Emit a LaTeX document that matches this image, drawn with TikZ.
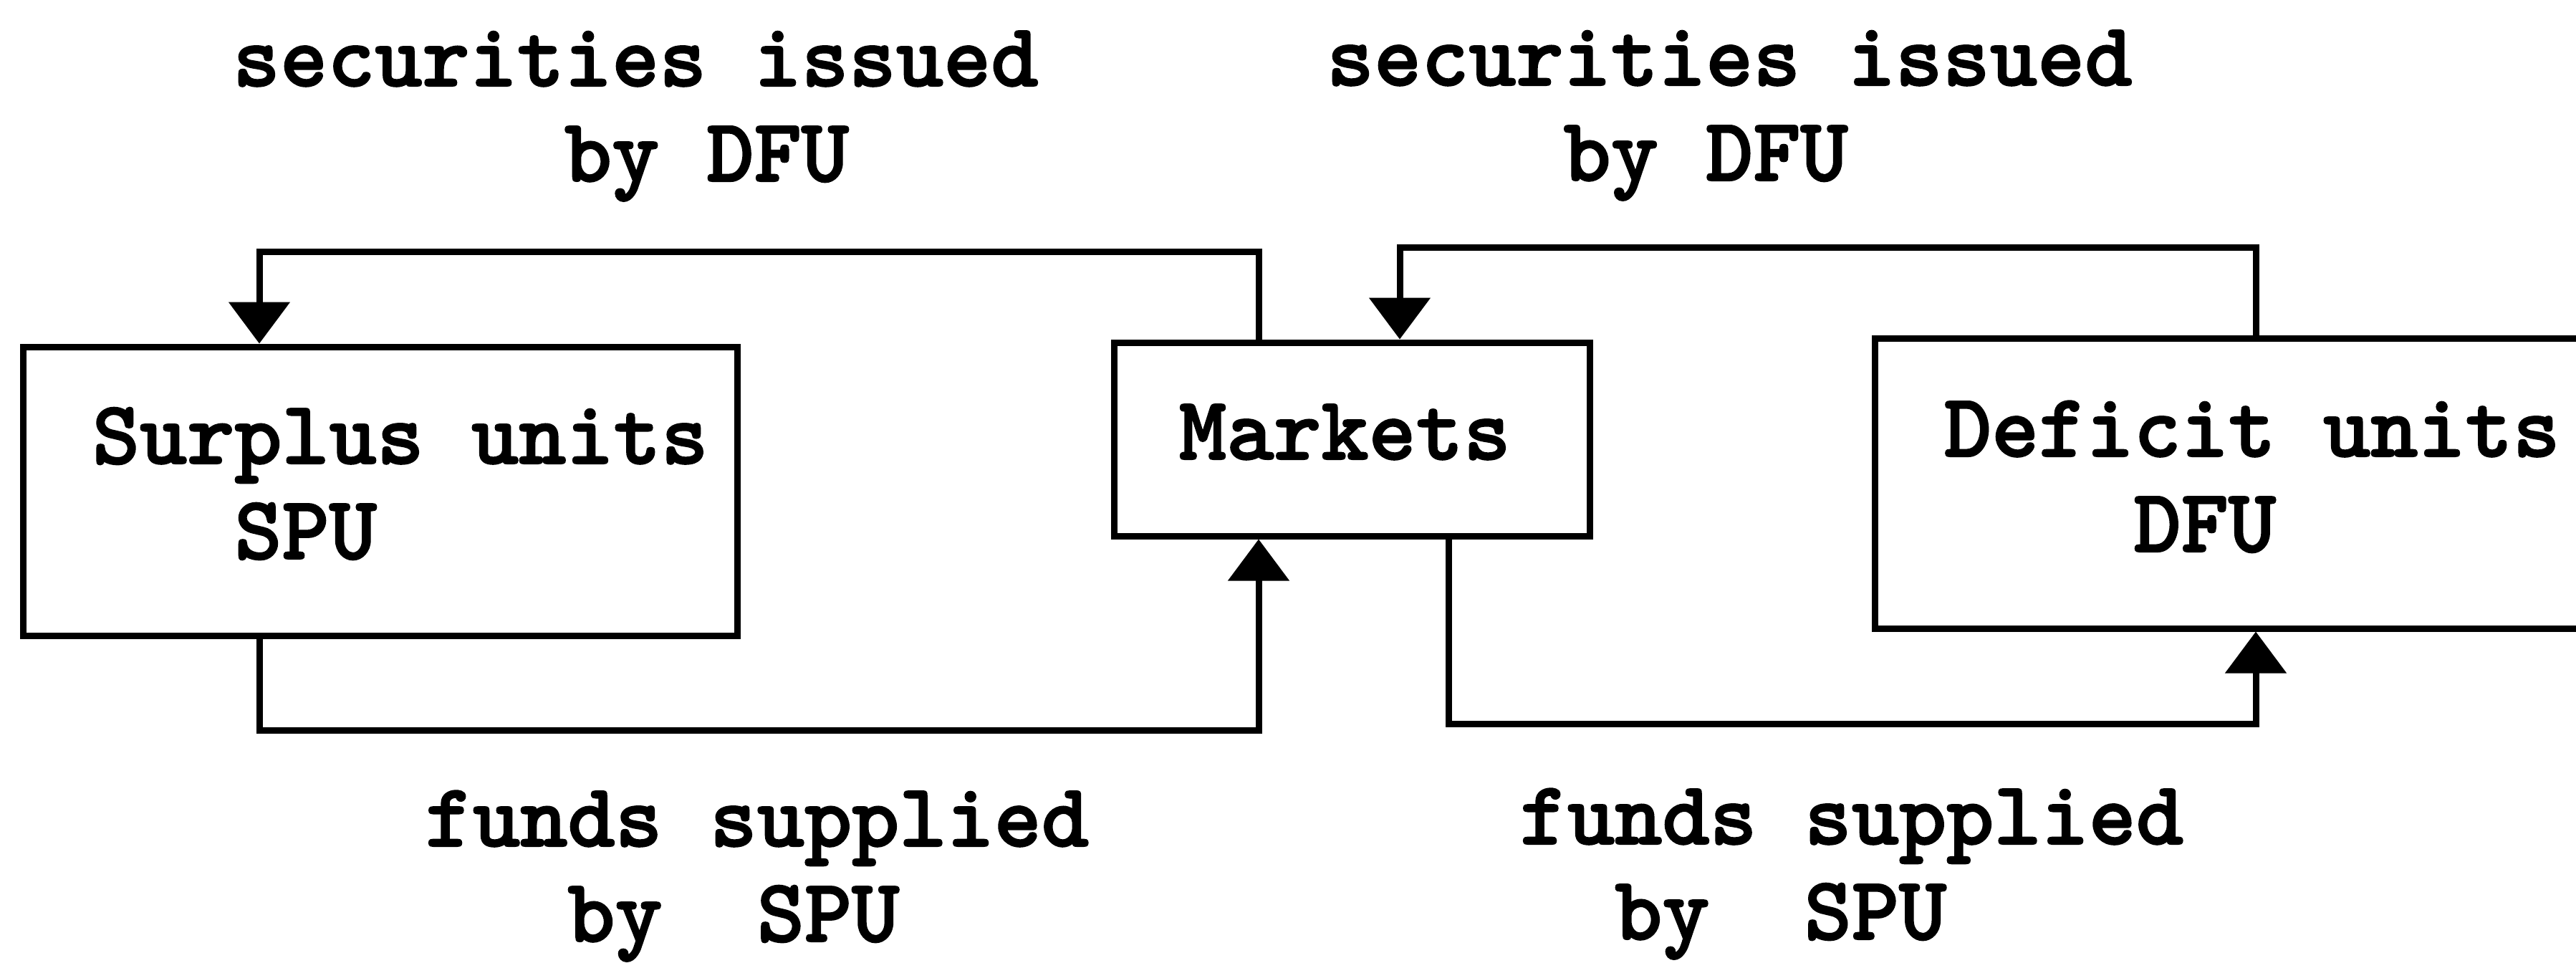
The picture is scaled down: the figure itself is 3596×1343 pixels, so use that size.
\documentclass[tikz,border=0pt]{standalone}
\usepackage{fontspec}
\newfontfamily\heavytt{lmmonolt10-bold.otf}[FakeBold=1.6]
\usetikzlibrary{arrows.meta}
\begin{document}
\begin{tikzpicture}[x=0.1pt,y=-0.1pt,
  boxnode/.style={draw,line width=0.9pt,inner sep=0pt,rectangle},
  txt/.style={inner sep=0pt,anchor=base west,font=\heavytt\fontsize{12.6}{13.3}\selectfont},
  conn/.style={line width=0.9pt},
  arr/.style={conn,-{Triangle[width=8.4pt,length=5.8pt]}}]
\useasboundingbox (0,0) rectangle (3596,1343);
\clip (0,0) rectangle (3596,1343);
% boxes
\node[boxnode,minimum width=99.8pt,minimum height=40.3pt] (spu) at (531,685.5) {};
\node[boxnode,minimum width=66.5pt,minimum height=27pt] (mkt) at (1887.5,613) {};
\node[boxnode,minimum width=102.3pt,minimum height=40.5pt] (dfu) at (3128.5,674.5) {};
% box texts
\node[txt] (tspu) at (127,647) {\begin{tabular}[t]{@{}l@{}}Surplus units\\\phantom{xxx}SPU\end{tabular}};
\node[txt] (tmkt) at (1644,641) {Markets};
\node[txt] (tdfu) at (2712,637) {\begin{tabular}[t]{@{}l@{}}Deficit units\\\phantom{xxxx}DFU\end{tabular}};
% labels
\node[txt] (l1) at (323,120) {\begin{tabular}[t]{@{}l@{}}securities issued\\\phantom{xxxxxxx}by DFU\end{tabular}};
\node[txt] (l2) at (1850,119) {\begin{tabular}[t]{@{}l@{}}securities issued\\\phantom{xxxxx}by DFU\end{tabular}};
\node[txt] (l3) at (592,1181) {\begin{tabular}[t]{@{}l@{}}funds supplied\\\phantom{xxx}by\phantom{xx}SPU\end{tabular}};
\node[txt] (l4) at (2120,1178) {\begin{tabular}[t]{@{}l@{}}funds supplied\\\phantom{xx}by\phantom{xx}SPU\end{tabular}};
% bend coordinates
\coordinate (c1) at (1757,351);
\coordinate (c2) at (362,351);
\coordinate (c3) at (3149,345);
\coordinate (c4) at (1954,345);
\coordinate (c5) at (362,1019);
\coordinate (c6) at (1757,1019);
\coordinate (c7) at (2022,1010);
\coordinate (c8) at (3149,1010);
% connectors
\draw[arr] (c1 |- mkt.north) -- (c1) -- (c2) -- (c2 |- spu.north);
\draw[arr] (c3 |- dfu.north) -- (c3) -- (c4) -- (c4 |- mkt.north);
\draw[arr] (c5 |- spu.south) -- (c5) -- (c6) -- (c6 |- mkt.south);
\draw[arr] (c7 |- mkt.south) -- (c7) -- (c8) -- (c8 |- dfu.south);
\end{tikzpicture}
\end{document}
